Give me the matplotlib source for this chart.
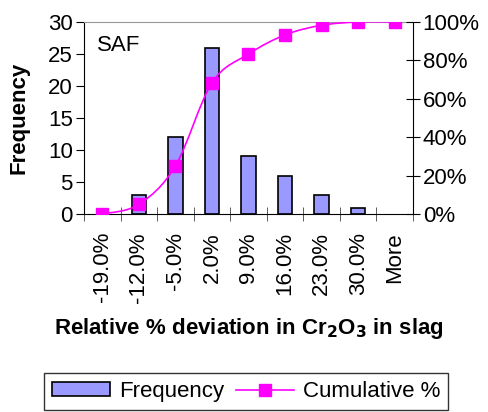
import matplotlib.pyplot as plt
import numpy as np
from matplotlib.path import Path
from matplotlib.patches import PathPatch, Patch
from matplotlib.lines import Line2D
from matplotlib.ticker import PercentFormatter

plt.rcParams['font.family'] = ['Liberation Sans', 'DejaVu Sans']

bins = ['-19.0%', '-12.0%', '-5.0%', '2.0%', '9.0%', '16.0%', '23.0%', '30.0%', 'More']
freq = [0, 3, 12, 26, 9, 6, 3, 1, 0]
cum_pct = [0.0, 5.0, 25.0, 68.3, 83.3, 93.3, 98.3, 100.0, 100.0]

fig = plt.figure(figsize=(4.89, 4.12), dpi=100)
ax = fig.add_axes([84 / 489, 1 - 214 / 412, (413 - 84) / 489, (214 - 22) / 412])
x = np.arange(len(bins))

ax.bar(x, freq, width=0.4, color='#9999ff', edgecolor='black',
       linewidth=[1.2 if f else 0 for f in freq], zorder=2)
ax.set_xlim(-0.5, len(bins) - 0.5)
ax.set_ylim(0, 30)
ax.set_yticks(range(0, 31, 5))
ax.set_xticks(x)
ax.set_xticklabels(bins, rotation=90, fontsize=16)
ax.set_xticks(np.arange(-0.5, len(bins), 1), minor=True)
ax.tick_params(axis='x', which='major', length=0, pad=13)
ax.tick_params(axis='x', which='minor', direction='inout', length=10, color='#444444')
ax.tick_params(axis='y', labelsize=16, direction='out', length=6, pad=2)
ax.set_ylabel('Frequency', fontsize=16, fontweight='bold', labelpad=13)
ax.set_xlabel('Relative % deviation in Cr$_\\mathbf{2}$O$_\\mathbf{3}$ in slag',
              fontsize=16, fontweight='bold', labelpad=10)
ax.spines['top'].set_color('#999999')
ax.spines['right'].set_visible(False)
ax.text(0.04, 0.93, 'SAF', transform=ax.transAxes, fontsize=16, va='top')

ax2 = ax.twinx()
ax2.set_ylim(0, 100)

# smoothed line like Excel (cardinal spline drawn as bezier path)
y = np.array(cum_pct)
verts = [(x[0], y[0])]
codes = [Path.MOVETO]
for i in range(len(x) - 1):
    x0, y0 = (x[i - 1], y[i - 1]) if i > 0 else (x[i], y[i])
    x3, y3 = (x[i + 2], y[i + 2]) if i + 2 < len(x) else (x[i + 1], y[i + 1])
    c1 = (x[i] + (x[i + 1] - x0) / 6, y[i] + (y[i + 1] - y0) / 6)
    c2 = (x[i + 1] - (x3 - x[i]) / 6, y[i + 1] - (y3 - y[i]) / 6)
    verts += [c1, c2, (x[i + 1], y[i + 1])]
    codes += [Path.CURVE4] * 3
ax2.add_patch(PathPatch(Path(verts, codes), facecolor='none', edgecolor='#ff00ff',
                        linewidth=1.2, zorder=3))
ax2.plot(x, cum_pct, linestyle='none', marker='s', markersize=9,
         color='#ff00ff', zorder=4)
ax2.set_yticks(range(0, 101, 20))
ax2.yaxis.set_major_formatter(PercentFormatter(decimals=0))
ax2.tick_params(axis='y', labelsize=16, direction='inout', length=10, pad=2)
ax2.spines['top'].set_visible(False)
ax2.spines['left'].set_visible(False)
ax2.spines['bottom'].set_visible(False)

h1 = Patch(facecolor='#9999ff', edgecolor='black', linewidth=1.2)
h2 = Line2D([], [], color='#ff00ff', marker='s', markersize=9, linewidth=1.2)
fig.legend([h1, h2], ['Frequency', 'Cumulative %'], loc='upper left',
           bbox_to_anchor=(44 / 489, 1 - 373 / 412),
           ncol=2, fontsize=16, frameon=True, fancybox=False, edgecolor='black',
           handlelength=2.6, handleheight=0.6, columnspacing=0.55,
           handletextpad=0.4, borderpad=0.36, borderaxespad=0)

fig.savefig('out.png', dpi=100)
